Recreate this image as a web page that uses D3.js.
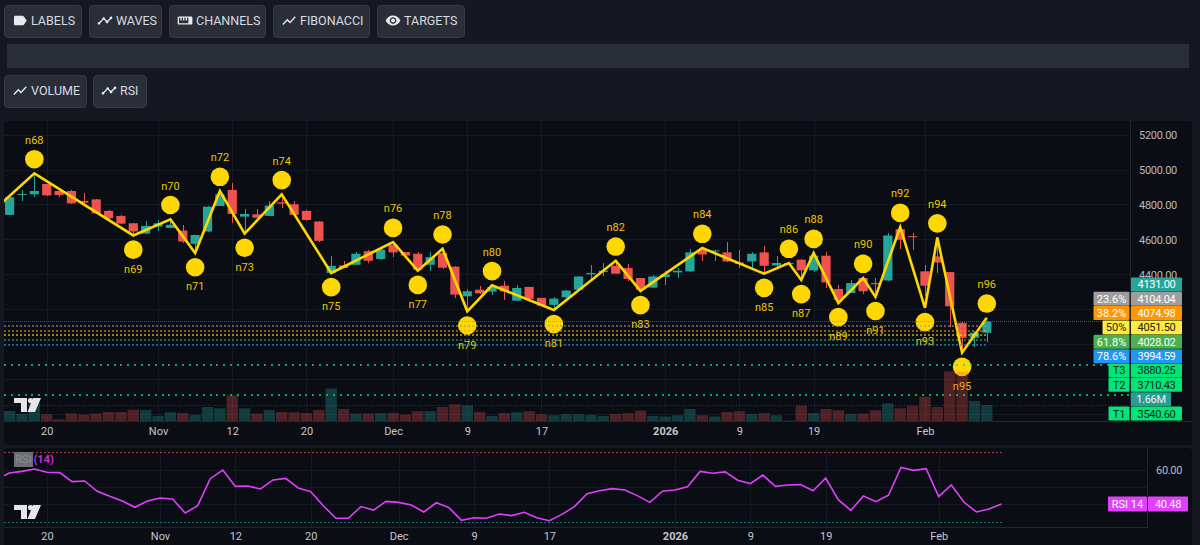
<!DOCTYPE html>
<html>
<head>
<meta charset="utf-8">
<title>Elliott wave chart</title>
<script src="https://cdnjs.cloudflare.com/ajax/libs/d3/7.8.5/d3.min.js"></script>
<style>
html,body{margin:0;padding:0;background:#151820;overflow:hidden}
svg{display:block}
text{font-family:Roboto,sans-serif}
</style>
</head>
<body>
<svg id="chart" width="1200" height="545"></svg>
<script>
// Daily session series
const opens=[4743,4859,4861,4920,4880,4880,4823,4832,4766,4737,4695,4636,4676,4668,4653,4577,4648,4794,4886,4733,4746,4737,4815,4804,4766,4705,4410,4453,4457,4535,4490,4571,4530,4520,4457,4524,4446,4276,4314,4303,4337,4251,4330,4267,4227,4270,4314,4402,4415,4451,4438,4381,4326,4387,4413,4419,4543,4533,4528,4470,4476,4528,4453,4461,4486,4425,4509,4318,4295,4381,4352,4367,4661,4621,4419,4505,4415,4124,4038,4067];
const highs=[4846,4886,4971,4922,4882,4886,4867,4834,4770,4745,4697,4710,4714,4724,4686,4630,4792,4886,4924,4775,4775,4823,4848,4823,4771,4707,4505,4480,4528,4539,4545,4590,4533,4528,4530,4530,4448,4318,4337,4337,4362,4343,4332,4269,4272,4314,4392,4453,4467,4486,4463,4383,4400,4419,4438,4547,4552,4543,4585,4543,4533,4562,4505,4470,4490,4533,4528,4343,4371,4383,4381,4642,4663,4638,4457,4619,4417,4126,4076,4137];
const lows=[4741,4823,4848,4851,4848,4806,4809,4750,4720,4691,4628,4634,4653,4666,4581,4524,4646,4792,4699,4638,4725,4735,4785,4737,4710,4587,4408,4436,4453,4467,4482,4501,4505,4419,4423,4432,4269,4181,4290,4286,4257,4251,4259,4219,4200,4267,4312,4371,4394,4402,4362,4310,4324,4341,4379,4417,4476,4476,4470,4438,4438,4413,4438,4448,4371,4413,4324,4238,4293,4291,4295,4362,4547,4539,4276,4409,4101,3952,3987,4015];
const closes=[4844,4863,4880,4855,4857,4809,4813,4752,4724,4693,4648,4680,4695,4686,4590,4628,4790,4861,4748,4748,4727,4796,4808,4743,4714,4594,4451,4438,4520,4480,4543,4528,4510,4429,4501,4440,4286,4305,4293,4330,4305,4324,4261,4223,4263,4309,4390,4410,4423,4406,4375,4314,4390,4402,4423,4528,4516,4539,4476,4463,4520,4451,4467,4467,4425,4509,4356,4257,4352,4305,4345,4625,4600,4615,4337,4470,4219,4038,4067,4131];
// Volume in millions
const volumes=[1.06,.76,1.89,.73,.23,.80,.70,.80,.96,.96,1.20,1.16,.56,.93,.86,.66,1.46,1.33,2.62,1.33,.80,1.16,.96,.93,.86,1.16,3.32,1.26,.80,.80,.86,.86,.70,1.03,1.03,1.46,1.73,1.63,.96,.56,.86,.93,1.03,.73,.63,.73,.73,.66,.56,.76,.83,1.10,.56,.50,.63,1.26,.63,.50,.96,1.03,.76,.83,.63,.10,1.59,.86,1.26,1.13,.76,.80,1.13,1.83,1.33,1.59,2.49,1.46,5.05,5.00,2.06,1.66];
// RSI(14), starting one session before the first candle in view
const rsiValues=[54.8,58.3,59.2,60.6,58.7,58.5,53.3,53.7,47.8,44.9,42.2,38.6,42.2,43.9,43.4,35.3,39.5,55.0,60.0,50.6,50.8,49.1,54.3,55.2,49.7,47.6,39.5,32.3,32.3,39.0,37.0,42.0,41.4,39.9,35.9,41.2,38.4,31.1,32.6,32.3,34.7,33.8,35.7,32.6,30.9,34.5,39.0,46.4,48.1,49.3,48.5,45.3,41.4,47.8,48.5,50.4,59.2,58.1,58.9,54.1,52.2,57.1,50.6,51.4,51.6,48.1,55.4,43.0,36.8,45.1,41.8,45.5,61.5,59.8,60.8,44.7,51.4,41.6,35.9,37.6,40.48];
// Wave pivots: session index, price, label
const waveIndex=[-1,2,10,13,15,17,19,22,26,31,33,35,37,39,44,49,51,56,61,63,64,65,67,69,70,72,74,75,77,79];
const wavePrice=[4787,4981,4625,4718,4524,4880,4636,4861,4410,4587,4423,4549,4190,4339,4198,4480,4307,4553,4406,4467,4370,4524,4238,4381,4273,4673,4210,4613,3953,4153];
const waveNames=["","n68","n69","n70","n71","n72","n73","n74","n75","n76","n77","n78","n79","n80","n81","n82","n83","n84","n85","n86","n87","n88","n89","n90","n91","n92","n93","n94","n95","n96"];
// Time axis
const timeTickIndex=[3,12,18,24,31,37,43,53,59,65,74];
const timeTickLabels=["20","Nov","12","20","Dec","9","17","2026","9","19","Feb"];
const priceGrid=[5200,5000,4800,4600,4400,4200,4000,3800,3600];
const priceTicks=[5200,5000,4800,4600,4400];
// Horizontal levels
const fibNames=["23.6%","38.2%","50%","61.8%","78.6%"];
const fibLevels=[4104.04,4074.98,4051.50,4028.02,3994.59];
const fibColors=["#9e9e9e","#ff9800","#ffeb3b","#4caf50","#2196f3"];
const fibTextColors=["#fff","#fff","#222","#fff","#fff"];
const targetNames=["T3","T2","T1"];
const targetLevels=[3880.25,3710.43,3540.60];
const lastClose=4131.00;
const lastVolumeText="1.66M";
const rsiLast=40.48;
const rsiTicks=[60];
const rsiGrid=[60,50,40];

const TEAL="#26a69a",RED="#ef5350",GOLD="#ffd700",TARGET="#00e676",MAGENTA="#e040fb";
const xMain=d3.scaleLinear().domain([0,79]).range([9.6,986.8]);
const xRsi=d3.scaleLinear().domain([0,79]).range([9.3,1001.5]);
const yPrice=d3.scaleLinear().domain([5200,4400]).range([135.2,274.7]);
const yVol=d3.scaleLinear().domain([0,1.66]).range([421.5,405]);
const yRsi=d3.scaleLinear().domain([60,40.48]).range([470,504]);

const svg=d3.select("#chart");
const defs=svg.append("defs");
defs.append("clipPath").attr("id","mainClip").append("rect").attr("x",4).attr("y",121).attr("width",1126).attr("height",300);
defs.append("clipPath").attr("id","rsiClip").append("rect").attr("x",4).attr("y",448).attr("width",1143.5).attr("height",79);

// Toolbar rows
const ICONS={
 label:"M17.63 5.84C17.27 5.33 16.67 5 16 5L5 5.01C3.9 5.01 3 5.9 3 7v10c0 1.1.9 1.99 2 1.99L16 19c.67 0 1.27-.33 1.63-.84L22 12l-4.37-6.16z",
 timeline:"M23 8c0 1.1-.9 2-2 2-.18 0-.35-.02-.51-.07l-3.56 3.55c.05.16.07.34.07.52 0 1.1-.9 2-2 2s-2-.9-2-2c0-.18.02-.36.07-.52l-2.55-2.55c-.16.05-.34.07-.52.07s-.36-.02-.52-.07l-4.55 4.56c.05.16.07.33.07.51 0 1.1-.9 2-2 2s-2-.9-2-2 .9-2 2-2c.18 0 .35.02.51.07l4.56-4.55C8.02 9.36 8 9.18 8 9c0-1.1.9-2 2-2s2 .9 2 2c0 .18-.02.36-.07.52l2.55 2.55c.16-.05.34-.07.52-.07s.36.02.52.07l3.55-3.56C19.02 8.35 19 8.18 19 8c0-1.1.9-2 2-2s2 .9 2 2z",
 ruler:"M21 6H3c-1.1 0-2 .9-2 2v8c0 1.1.9 2 2 2h18c1.1 0 2-.9 2-2V8c0-1.1-.9-2-2-2zm0 10H3V8h2v4h2V8h2v4h2V8h2v4h2V8h2v8z",
 chart:"M3.5 18.49l6-6.01 4 4L22 6.92l-1.41-1.41-7.09 7.97-4-4L2 16.99z",
 eye:"M12 4.5C7 4.5 2.73 7.61 1 12c1.73 4.39 6 7.5 11 7.5s9.27-3.11 11-7.5c-1.73-4.39-6-7.5-11-7.5zM12 17c-2.76 0-5-2.24-5-5s2.24-5 5-5 5 2.24 5 5-2.24 5-5 5zm0-8c-1.66 0-3 1.34-3 3s1.34 3 3 3 3-1.34 3-3-1.34-3-3-3z"
};
const buttons=[
 {t:"LABELS",i:"label",x:4,w:78,y:5},{t:"WAVES",i:"timeline",x:89,w:73,y:5},
 {t:"CHANNELS",i:"ruler",x:169,w:97,y:5},{t:"FIBONACCI",i:"chart",x:273,w:97,y:5},
 {t:"TARGETS",i:"eye",x:377,w:88,y:5},{t:"VOLUME",i:"chart",x:4,w:83,y:75},{t:"RSI",i:"timeline",x:93,w:54,y:75}
];
const btn=svg.append("g").selectAll("g").data(buttons).join("g").attr("transform",d=>`translate(${d.x},${d.y})`);
btn.append("rect").attr("x",.5).attr("y",.5).attr("width",d=>d.w-1).attr("height",32).attr("rx",3.5).attr("fill","#2a2e37").attr("stroke","#363a44");
btn.append("path").attr("d",d=>ICONS[d.i]).attr("fill","#e8eaef").attr("transform","translate(8,7.5) scale(0.67)");
btn.append("text").attr("x",27).attr("y",19.6).attr("fill","#d8dbe2").attr("font-size",12.5).text(d=>d.t);
svg.append("rect").attr("x",7).attr("y",44).attr("width",1182).attr("height",24).attr("fill","#2a2e37");

// Panes
svg.append("rect").attr("x",4).attr("y",121).attr("width",1188).attr("height",324).attr("rx",4).attr("fill","#0a0d14");
svg.append("rect").attr("x",4).attr("y",448).attr("width",1188).attr("height",100).attr("rx",4).attr("fill","#0a0d14");
const GRID="#151923",SEP="#23262e";

// Grid
const gridMain=svg.append("g").attr("stroke",GRID).attr("shape-rendering","crispEdges");
gridMain.selectAll("line.h").data(priceGrid).join("line").attr("class","h").attr("x1",4).attr("x2",1130).attr("y1",d=>Math.floor(yPrice(d))+.5).attr("y2",d=>Math.floor(yPrice(d))+.5);
gridMain.selectAll("line.v").data(timeTickIndex).join("line").attr("class","v").attr("y1",121).attr("y2",421).attr("x1",d=>Math.round(xMain(d))+.5).attr("x2",d=>Math.round(xMain(d))+.5);
const gridRsi=svg.append("g").attr("stroke",GRID).attr("shape-rendering","crispEdges");
gridRsi.selectAll("line.h").data(rsiGrid).join("line").attr("class","h").attr("x1",4).attr("x2",1147).attr("y1",d=>Math.floor(yRsi(d))+.5).attr("y2",d=>Math.floor(yRsi(d))+.5);
gridRsi.selectAll("line.v").data(timeTickIndex).join("line").attr("class","v").attr("y1",448).attr("y2",527).attr("x1",d=>Math.round(xRsi(d))+.5).attr("x2",d=>Math.round(xRsi(d))+.5);

// Candles
const main=svg.append("g").attr("clip-path","url(#mainClip)");
const bars=d3.range(opens.length);
const dirColor=i=>closes[i]>=opens[i]?TEAL:RED;
main.append("g").attr("shape-rendering","crispEdges").selectAll("line").data(bars).join("line")
 .attr("x1",i=>Math.round(xMain(i))+.5).attr("x2",i=>Math.round(xMain(i))+.5)
 .attr("y1",i=>yPrice(highs[i])).attr("y2",i=>yPrice(lows[i])).attr("stroke",dirColor);
main.append("g").selectAll("rect").data(bars).join("rect")
 .attr("x",i=>xMain(i)-4.6).attr("width",9.2)
 .attr("y",i=>yPrice(Math.max(opens[i],closes[i])))
 .attr("height",i=>Math.max(1,Math.abs(yPrice(opens[i])-yPrice(closes[i]))))
 .attr("fill",dirColor);

// Wave path with its pivot markers
const wave=waveIndex.map((k,j)=>({k,p:wavePrice[j],n:waveNames[j],j}));
main.append("path").attr("fill","none").attr("stroke",GOLD).attr("stroke-width",2.6).attr("stroke-linejoin","miter")
 .attr("d",d3.line().x(d=>xMain(d.k)).y(d=>yPrice(d.p))(wave));
// Pivots alternate: highs carry their marker above the path, lows below
const pivots=wave.filter(d=>d.n);
const isUp=d=>+d.n.slice(1)%2===0;
main.append("g").selectAll("circle").data(pivots).join("circle")
 .attr("cx",d=>xMain(d.k)).attr("cy",d=>yPrice(d.p)+(isUp(d)?-14.2:14.2)).attr("r",9.3).attr("fill",GOLD);
main.append("g").selectAll("text").data(pivots).join("text")
 .attr("x",d=>xMain(d.k)).attr("y",d=>yPrice(d.p)+(isUp(d)?-33.5:33.5)).attr("dy","0.35em")
 .attr("text-anchor","middle").attr("font-size",11).attr("fill","#eec700").text(d=>d.n);

// Level lines sit on top of the markers
const levels=main.append("g").attr("shape-rendering","crispEdges").attr("fill","none");
levels.selectAll("line.fib").data(fibLevels).join("line").attr("class","fib")
 .attr("x1",4).attr("x2",987).attr("y1",d=>Math.round(yPrice(d))).attr("y2",d=>Math.round(yPrice(d)))
 .attr("stroke",(d,i)=>fibColors[i]).attr("stroke-opacity",.55).attr("stroke-width",2).attr("stroke-dasharray","2 2");
levels.append("line").attr("x1",4).attr("x2",1130).attr("y1",Math.floor(yPrice(lastClose))+.5).attr("y2",Math.floor(yPrice(lastClose))+.5)
 .attr("stroke",TEAL).attr("stroke-opacity",.6).attr("stroke-dasharray","1 1");
levels.selectAll("line.tgt").data(targetLevels).join("line").attr("class","tgt")
 .attr("x1",4).attr("x2",1130).attr("y1",d=>Math.round(yPrice(d))).attr("y2",d=>Math.round(yPrice(d)))
 .attr("stroke",TARGET).attr("stroke-opacity",.75).attr("stroke-width",2).attr("stroke-dasharray","2 4.85");
levels.append("line").attr("x1",4).attr("x2",1130).attr("y1",Math.round(yVol(volumes[79]))+.5).attr("y2",Math.round(yVol(volumes[79]))+.5)
 .attr("stroke",TEAL).attr("stroke-opacity",.35).attr("stroke-dasharray","1 2");

// Volume histogram, translucent over everything beneath it
main.append("g").selectAll("rect").data(bars).join("rect")
 .attr("x",i=>xMain(i)-5.7).attr("width",11.4)
 .attr("y",i=>yVol(volumes[i])).attr("height",i=>yVol(0)-yVol(volumes[i]))
 .attr("fill",dirColor).attr("fill-opacity",.3);

// Separators
svg.append("g").attr("stroke",SEP).attr("shape-rendering","crispEdges").call(g=>{
 g.append("line").attr("x1",4).attr("x2",1192).attr("y1",421.5).attr("y2",421.5);
 g.append("line").attr("x1",1130.5).attr("x2",1130.5).attr("y1",121).attr("y2",421);
 g.append("line").attr("x1",4).attr("x2",1148).attr("y1",527.5).attr("y2",527.5);
 g.append("line").attr("x1",1147.5).attr("x2",1147.5).attr("y1",448).attr("y2",527);
});

// Logos
const LOGO="M0 0H13V14H7V5H0Z M19 0H27L21 14H13.5Z";
[398,505].forEach(y=>{
 const g=svg.append("g").attr("transform",`translate(14,${y})`).attr("fill","#e4e6eb");
 g.append("path").attr("d",LOGO);
 g.append("circle").attr("cx",16.5).attr("cy",2.6).attr("r",2.6);
});

// Axes
const styleAxis=(g,size,color,spacing)=>{g.select(".domain").remove();g.selectAll("line").remove();g.selectAll("text").attr("font-size",size).attr("fill",color).attr("letter-spacing",spacing||0);};
svg.append("g").attr("transform","translate(1131,0)")
 .call(d3.axisRight(yPrice).tickValues(priceTicks).tickFormat(d3.format(".2f")).tickSize(0).tickPadding(8))
 .call(g=>styleAxis(g,11,"#b8bbc4","-0.3px"));
const tickByIndex=new Map(timeTickIndex.map((k,i)=>[k,timeTickLabels[i]]));
const timeAxis=(x,y)=>svg.append("g").attr("transform",`translate(0,${y})`)
 .call(d3.axisBottom(x).tickValues(timeTickIndex).tickFormat(k=>tickByIndex.get(k)).tickSize(0).tickPadding(0))
 .call(g=>styleAxis(g,11,"#c5c8d0"))
 .call(g=>g.selectAll("text").attr("font-weight",k=>tickByIndex.get(k)==="2026"?700:400));
timeAxis(xMain,427);
timeAxis(xRsi,532);

// Price tags stacked downward beneath the last close
const tags=[
 {tag:null,val:lastClose.toFixed(2),bg:TEAL,fg:"#fff"},
 ...fibLevels.map((p,i)=>({tag:fibNames[i],val:p.toFixed(2),bg:fibColors[i],fg:fibTextColors[i]})),
 {tag:targetNames[0],val:targetLevels[0].toFixed(2),bg:TARGET,fg:"#10261c"},
 {tag:targetNames[1],val:targetLevels[1].toFixed(2),bg:TARGET,fg:"#10261c"},
 {tag:null,val:lastVolumeText,bg:"#2a9d93",fg:"#e8f4f3",short:true},
 {tag:targetNames[2],val:targetLevels[2].toFixed(2),bg:TARGET,fg:"#10261c"}
];
const tagG=svg.append("g").selectAll("g").data(tags).join("g").attr("transform",(d,i)=>`translate(0,${284.4+i*14.35})`);
tagG.append("rect").attr("x",1131).attr("y",-7).attr("width",d=>d.short?40:51).attr("height",14).attr("rx",1).attr("fill",d=>d.bg);
tagG.append("text").attr("x",d=>d.short?1151:1156.5).attr("dy","0.36em").attr("text-anchor","middle").attr("font-size",11).attr("letter-spacing","-0.3px").attr("fill",d=>d.fg).text(d=>d.val);
const tagL=tagG.filter(d=>d.tag);
const tagW=d=>d.tag.length===2?21:d.tag.length===3?27:36;
tagL.append("rect").attr("x",d=>1129.5-tagW(d)).attr("y",-7).attr("width",tagW).attr("height",14).attr("rx",1).attr("fill",d=>d.bg);
tagL.append("text").attr("x",d=>1129.5-tagW(d)/2).attr("dy","0.36em").attr("text-anchor","middle").attr("font-size",11).attr("fill",d=>d.fg).text(d=>d.tag);

// RSI pane
const rsiG=svg.append("g").attr("clip-path","url(#rsiClip)");
const rsiBands=[{v:70,c:RED},{v:30,c:TEAL}];
rsiG.selectAll("line.band").data(rsiBands).join("line").attr("class","band")
 .attr("x1",4).attr("x2",xRsi(79)).attr("y1",d=>Math.floor(yRsi(d.v))+.5).attr("y2",d=>Math.floor(yRsi(d.v))+.5)
 .attr("stroke",d=>d.c).attr("stroke-opacity",.7).attr("stroke-dasharray","2 2").attr("shape-rendering","crispEdges");
rsiG.append("path").attr("fill","none").attr("stroke",MAGENTA).attr("stroke-width",1.6)
 .attr("d",d3.line().x((v,i)=>xRsi(i-1)).y(v=>yRsi(v))(rsiValues));
svg.append("g").attr("transform","translate(1148,0)")
 .call(d3.axisRight(yRsi).tickValues(rsiTicks).tickFormat(d3.format(".2f")).tickSize(0).tickPadding(8))
 .call(g=>styleAxis(g,11,"#b8bbc4","-0.3px"));
const rsiTag=svg.append("g").attr("transform",`translate(0,${yRsi(rsiLast)})`);
rsiTag.append("rect").attr("x",1108).attr("y",-7.5).attr("width",39).attr("height",15).attr("rx",1).attr("fill",MAGENTA);
rsiTag.append("rect").attr("x",1148).attr("y",-7.5).attr("width",40).attr("height",15).attr("rx",1).attr("fill",MAGENTA);
rsiTag.append("text").attr("x",1127.5).attr("dy","0.36em").attr("text-anchor","middle").attr("font-size",11).attr("fill","#fff").text("RSI 14");
rsiTag.append("text").attr("x",1168).attr("dy","0.36em").attr("text-anchor","middle").attr("font-size",11).attr("letter-spacing","-0.3px").attr("fill","#fff").text(rsiLast.toFixed(2));
svg.append("rect").attr("x",14).attr("y",452).attr("width",19).attr("height",15).attr("fill","#6f7073");
svg.append("text").attr("x",23.5).attr("y",463).attr("text-anchor","middle").attr("font-size",11).attr("fill","#8a8b90").text("RSI");
svg.append("text").attr("x",33.5).attr("y",463).attr("font-size",11).attr("font-weight",700).attr("fill","#c22fd8").text("(14)");
</script>
</body>
</html>
